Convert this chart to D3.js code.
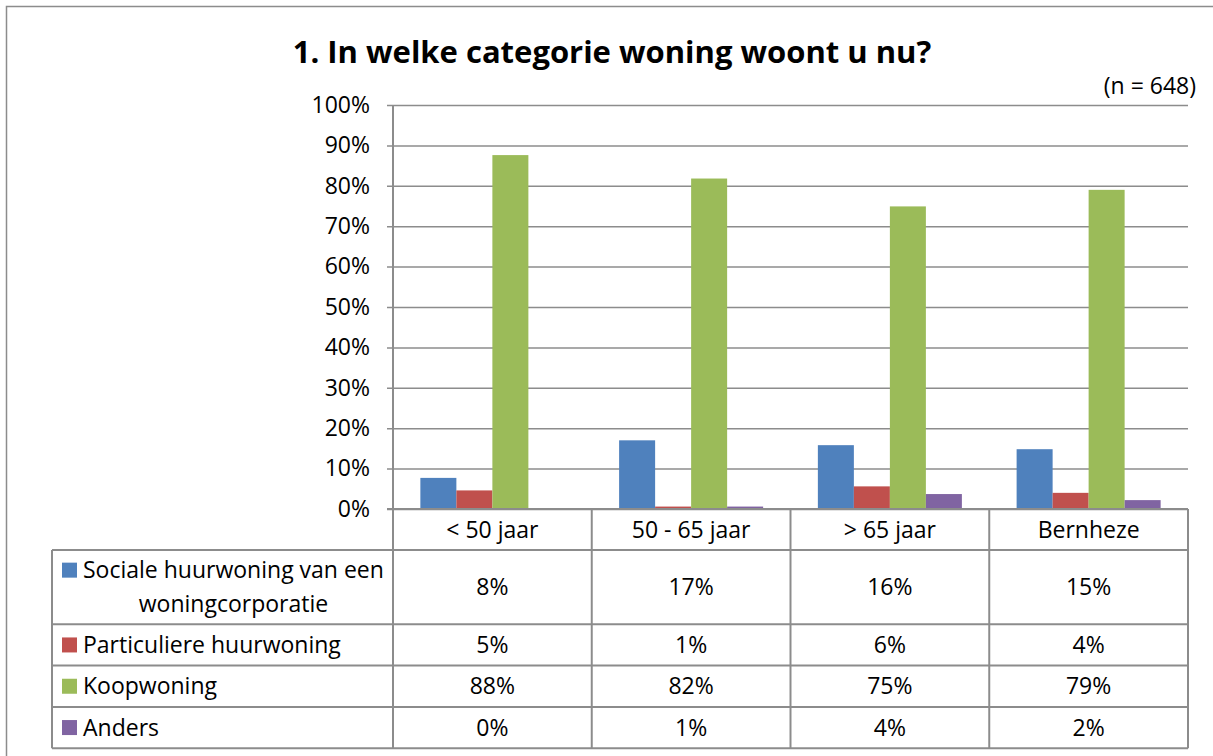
<!DOCTYPE html>
<html>
<head>
<meta charset="utf-8">
<script src="https://cdn.jsdelivr.net/npm/d3@7"></script>
<style>
  body { margin: 0; background: #fff; }
  svg { display: block; font-family: "Open Sans", Lato, sans-serif; }
</style>
</head>
<body>
<svg id="chart" width="1213" height="756"></svg>
<script>
// data
var categories = ["< 50 jaar", "50 - 65 jaar", "> 65 jaar", "Bernheze"];
var seriesNames = ["Sociale huurwoning van een woningcorporatie", "Particuliere huurwoning", "Koopwoning", "Anders"];
var seriesColors = ["#4f81bd", "#c0504d", "#9bbb59", "#8064a2"];
var sociale = [0.077, 0.170, 0.158, 0.148];
var particuliere = [0.046, 0.006, 0.056, 0.040];
var koop = [0.876, 0.818, 0.749, 0.790];
var anders = [0.000, 0.006, 0.037, 0.022];
var yTicks = [0, 0.1, 0.2, 0.3, 0.4, 0.5, 0.6, 0.7, 0.8, 0.9, 1];
var title = "1. In welke categorie woning woont u nu?";
var note = "(n = 648)";

var seriesValues = [sociale, particuliere, koop, anders];

var svg = d3.select("#chart");
var pct = d3.format(".0%");
var lineCol = "#8c8c8c";
var fs = "23px";

// outer frame
svg.append("rect")
    .attr("x", 6.5).attr("y", 6.5)
    .attr("width", 1240).attr("height", 800)
    .attr("fill", "none")
    .attr("stroke", "#8c8c8c")
    .attr("stroke-width", 1.5);

svg.append("text")
    .attr("x", 612).attr("y", 63)
    .attr("text-anchor", "middle")
    .style("font-size", "31px")
    .style("font-weight", "bold")
    .text(title);

svg.append("text")
    .attr("x", 1196).attr("y", 94)
    .attr("text-anchor", "end")
    .style("font-size", fs)
    .text(note);

var x = d3.scaleBand().domain(categories).range([393, 1188]);
var x1 = d3.scaleBand().domain(d3.range(seriesNames.length))
    .range([0, x.bandwidth()])
    .paddingOuter(0.76);
var y = d3.scaleLinear().domain([0, 1]).range([509, 105]);

// gridlines + y axis
var yAxis = d3.axisLeft(y)
    .tickValues(yTicks)
    .tickFormat(pct)
    .tickSize(-(1188 - 393));
var gy = svg.append("g")
    .attr("transform", "translate(393,0)")
    .call(yAxis);
gy.select(".domain").remove();
gy.selectAll(".tick line")
    .attr("x2", 1188 - 393)
    .attr("x1", -6)
    .attr("stroke", lineCol)
    .attr("stroke-width", 1.5);
gy.selectAll(".tick text")
    .attr("x", -23)
    .style("font-size", fs)
    .style("font-family", "'Open Sans', sans-serif")
    .attr("fill", "#000");

// bars
var groups = svg.append("g").selectAll("g")
    .data(categories)
    .join("g")
    .attr("transform", function(d) { return "translate(" + x(d) + ",0)"; });

groups.selectAll("rect")
    .data(function(d, i) { return seriesValues.map(function(s, j) { return { s: j, v: s[i] }; }); })
    .join("rect")
    .attr("x", function(d) { return x1(d.s); })
    .attr("width", x1.bandwidth())
    .attr("y", function(d) { return y(d.v); })
    .attr("height", function(d) { return y(0) - y(d.v); })
    .attr("fill", function(d) { return seriesColors[d.s]; });

// data table
var tableLeft = 52, headTop = 509, headBottom = 550;
var rowH = 41.3, lineH = 34, labelMax = 312;

var tbl = svg.append("g");

// wrap series labels
var measure = svg.append("text").style("font-size", fs);
var labelLines = seriesNames.map(function(name) {
  var words = name.split(" "), lines = [], cur = "";
  words.forEach(function(w) {
    var t = cur ? cur + " " + w : w;
    measure.text(t);
    if (measure.node().getComputedTextLength() > labelMax && cur) {
      lines.push(cur);
      cur = w;
    } else {
      cur = t;
    }
  });
  lines.push(cur);
  return lines;
});
measure.remove();

var rowTops = [];
var yy = headBottom;
labelLines.forEach(function(l) {
  rowTops.push(yy);
  yy += rowH + (l.length - 1) * (lineH - 1);
});
var tableBottom = yy;

// header labels
tbl.selectAll("text.cat")
    .data(categories)
    .join("text")
    .attr("class", "cat")
    .attr("x", function(d) { return x(d) + x.bandwidth() / 2; })
    .attr("y", (headTop + headBottom) / 2)
    .attr("dy", "0.35em")
    .attr("text-anchor", "middle")
    .style("font-size", fs)
    .text(function(d) { return d; });

// rows
labelLines.forEach(function(lines, r) {
  var top = rowTops[r];
  var h = rowH + (lines.length - 1) * (lineH - 1);
  var cy = top + h / 2;
  var firstY = cy - (lines.length - 1) * lineH / 2;
  tbl.append("rect")
      .attr("x", 62).attr("y", firstY - 7.5)
      .attr("width", 15).attr("height", 15)
      .attr("fill", seriesColors[r]);
  var firstText = tbl.append("text")
      .attr("x", 83).attr("y", firstY)
      .attr("dy", "0.35em")
      .style("font-size", fs)
      .text(lines[0]);
  var w0 = firstText.node().getComputedTextLength();
  lines.slice(1).forEach(function(l, k) {
    tbl.append("text")
        .attr("x", 83 + w0 / 2).attr("y", firstY + (k + 1) * lineH)
        .attr("dy", "0.35em")
        .attr("text-anchor", "middle")
        .style("font-size", fs)
        .text(l);
  });
  tbl.selectAll(null)
      .data(categories)
      .join("text")
      .attr("x", function(d) { return x(d) + x.bandwidth() / 2; })
      .attr("y", cy)
      .attr("dy", "0.35em")
      .attr("text-anchor", "middle")
      .style("font-size", fs)
      .text(function(d, i) { return pct(seriesValues[r][i]); });
});

// table lines
var hLines = rowTops.concat([tableBottom]);
tbl.selectAll("line.h")
    .data(hLines)
    .join("line")
    .attr("x1", tableLeft).attr("x2", 1188)
    .attr("y1", function(d) { return d; }).attr("y2", function(d) { return d; })
    .attr("stroke", lineCol).attr("stroke-width", 2);

var vx = categories.map(function(d) { return x(d); }).concat([1188]);
tbl.selectAll("line.v")
    .data(vx)
    .join("line")
    .attr("x1", function(d) { return d; }).attr("x2", function(d) { return d; })
    .attr("y1", function(d, i) { return i === 0 ? 105 : headTop; })
    .attr("y2", tableBottom)
    .attr("stroke", lineCol).attr("stroke-width", 2);

tbl.append("line")
    .attr("x1", tableLeft).attr("x2", tableLeft)
    .attr("y1", headBottom).attr("y2", tableBottom)
    .attr("stroke", lineCol).attr("stroke-width", 2);

tbl.append("line")
    .attr("x1", 387).attr("x2", 1188)
    .attr("y1", headTop).attr("y2", headTop)
    .attr("stroke", lineCol).attr("stroke-width", 2);
</script>
</body>
</html>
